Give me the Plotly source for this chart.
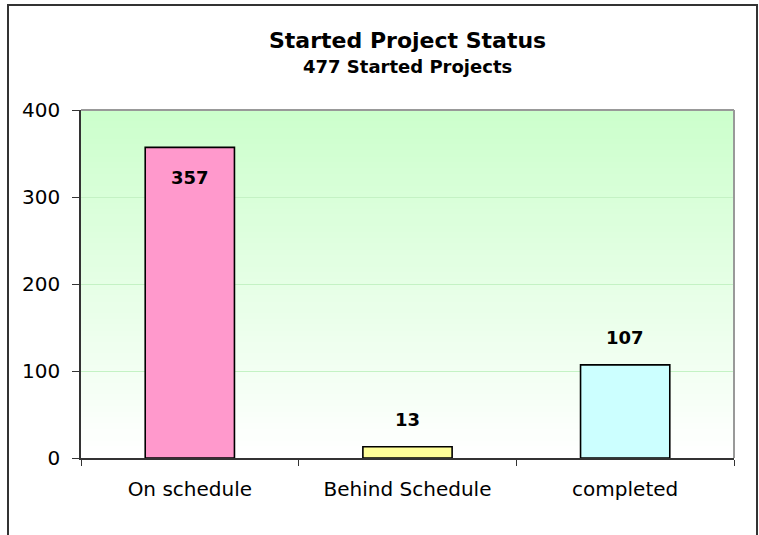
import plotly.graph_objects as go

# data
categories = ['On schedule', 'Behind Schedule', 'completed']
projects = [357, 13, 107]
bar_colors = ['#FF99CC', '#FFFF99', '#CCFFFF']
y_ticks = [0, 100, 200, 300, 400]

W, H = 759, 535
L, R, T, B = 81, 25, 110, 77
pw, ph = W - L - R, H - T - B

def px_x(p):
    return (p - L) / pw

def px_y(p):
    return (H - B - p) / ph

FONT = 'DejaVu Sans'

fig = go.Figure()
fig.add_trace(go.Bar(
    x=categories, y=projects,
    marker=dict(color=bar_colors, line=dict(color='black', width=1.6)),
    hoverinfo='x+y',
))

shapes = []
# green gradient in the plot area
n = 60
for i in range(n):
    t = i / (n - 1)
    r = int(round(0xCC + (255 - 0xCC) * (1 - t)))
    shapes.append(dict(type='rect', xref='paper', yref='paper',
                       x0=0, x1=1, y0=i / n, y1=(i + 1) / n + 0.002,
                       fillcolor=f'rgb({r},255,{r})', line=dict(width=0),
                       layer='below'))
# top and right plot border (gray)
shapes.append(dict(type='line', xref='paper', yref='paper', x0=0, x1=1, y0=1, y1=1,
                   line=dict(color='#999999', width=2)))
shapes.append(dict(type='line', xref='paper', yref='paper', x0=1, x1=1, y0=0, y1=1,
                   line=dict(color='#999999', width=2)))
# outer chart frame
shapes.append(dict(type='path', xref='paper', yref='paper',
                   path=f'M {px_x(8)},{px_y(545)} L {px_x(8)},{px_y(5)} '
                        f'L {px_x(757)},{px_y(5)} L {px_x(757)},{px_y(545)}',
                   line=dict(color='#333333', width=2)))

annotations = [
    dict(text='<b>Started Project Status</b>', x=0.5, xref='paper', xanchor='center',
         y=px_y(40), yref='paper', yanchor='middle', showarrow=False,
         font=dict(family=FONT, size=22, color='black')),
    dict(text='<b>477 Started Projects</b>', x=0.5, xref='paper', xanchor='center',
         y=px_y(66), yref='paper', yanchor='middle', showarrow=False,
         font=dict(family=FONT, size=18, color='black')),
]
# value labels
for c, v in zip(categories, projects):
    inside = v > 330
    annotations.append(dict(
        text=f'<b>{v}</b>', x=c, y=v, xref='x', yref='y', showarrow=False,
        yanchor='top' if inside else 'bottom', yshift=-18 if inside else 15,
        font=dict(family=FONT, size=18, color='black')))

fig.update_layout(
    width=W, height=H,
    margin=dict(l=L, r=R, t=T, b=B),
    paper_bgcolor='white', plot_bgcolor='white',
    bargap=0.59,
    showlegend=False,
    font=dict(family=FONT, size=20, color='black'),
    shapes=shapes,
    annotations=annotations,
)
fig.update_xaxes(
    showline=True, linecolor='#333333', linewidth=1.5,
    ticks='outside', tickson='boundaries', ticklen=6, tickcolor='#333333',
    ticklabelstandoff=12,
    tickfont=dict(family=FONT, size=20, color='black'),
    showgrid=False, zeroline=False,
)
fig.update_yaxes(
    range=[0, 400], tickvals=y_ticks,
    showline=True, linecolor='#333333', linewidth=1.5,
    ticks='outside', ticklen=7, tickcolor='#333333',
    ticklabelstandoff=8,
    tickfont=dict(family=FONT, size=20, color='black'),
    showgrid=True, gridcolor='#C4F2C4', gridwidth=1, zeroline=False,
)

# page has a default 8px body margin; drop it so the chart sits at 0,0
fig.write_html('out.html', config={'displayModeBar': False},
               post_script="document.body.style.margin='0';")
